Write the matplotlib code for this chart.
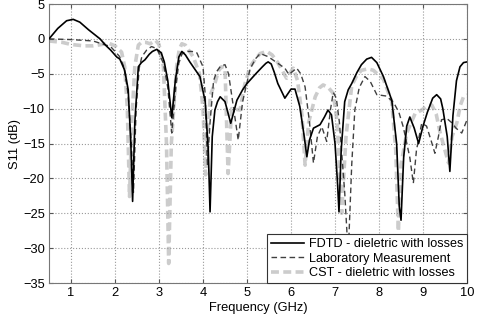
import matplotlib
matplotlib.use("Agg")
import matplotlib.pyplot as plt

plt.rcParams['font.family'] = ['Liberation Sans', 'DejaVu Sans']

fdtd_f = [0.5,0.7,0.9,1.05,1.2,1.4,1.66,1.8,1.9,2.04,2.11,2.22,2.3,2.36,2.40,2.45,2.53,2.6,2.68,2.78,2.85,2.95,3.05,3.12,3.2,3.29,3.37,3.45,3.52,3.6,3.7,3.82,3.93,4.05,4.12,4.16,4.21,4.27,4.33,4.39,4.5,4.63,4.77,4.9,5.0,5.2,5.35,5.43,5.48,5.55,5.62,5.7,5.86,6.0,6.09,6.2,6.3,6.36,6.42,6.51,6.66,6.76,6.84,6.92,7.0,7.06,7.09,7.14,7.22,7.3,7.38,7.5,7.6,7.72,7.83,7.95,8.1,8.29,8.4,8.46,8.5,8.56,8.63,8.7,8.8,8.9,9.0,9.1,9.22,9.31,9.4,9.45,9.55,9.61,9.68,9.76,9.84,9.92,10.0]
fdtd_v = [0,1.5,2.6,2.8,2.4,1.3,0,-1.0,-1.6,-2.6,-2.9,-4.5,-7.3,-15,-23.3,-12,-4.0,-3.4,-3.0,-2.2,-1.8,-1.5,-2.0,-3.3,-6,-11.3,-6,-2.6,-1.8,-2.3,-3.3,-4.4,-5.4,-9,-16,-24.8,-14,-10.2,-9.0,-8.3,-9.0,-12.1,-8.8,-7.3,-6.4,-5.0,-4.0,-3.5,-3.3,-3.6,-4.8,-6.4,-8.5,-7.2,-7.2,-9.7,-14,-16.9,-14.5,-12.8,-12.3,-11.2,-10.2,-10.9,-15,-21,-24.8,-16,-9,-7.3,-6.4,-4.8,-3.7,-2.9,-2.65,-3.4,-5.4,-8.8,-15,-24,-26,-17,-12.5,-11.2,-12.8,-15,-12.5,-10.5,-8.5,-8.0,-8.6,-10,-14,-19.0,-11,-6.0,-4.0,-3.4,-3.3]

lab_f = [0.5,1.0,1.5,1.9,2.1,2.2,2.3,2.37,2.42,2.48,2.55,2.61,2.72,2.83,2.95,3.1,3.2,3.29,3.38,3.45,3.52,3.6,3.75,3.86,4.0,4.05,4.1,4.16,4.24,4.31,4.4,4.5,4.58,4.65,4.8,4.9,5.07,5.2,5.3,5.48,5.7,5.86,5.95,6.05,6.13,6.22,6.32,6.42,6.51,6.6,6.7,6.81,6.9,6.96,7.03,7.1,7.22,7.30,7.38,7.45,7.55,7.68,7.8,7.95,8.17,8.33,8.45,8.55,8.7,8.78,8.85,8.97,9.08,9.18,9.27,9.35,9.42,9.54,9.65,9.75,9.88,10.0]
lab_v = [0,-0.1,-0.3,-1.1,-2.5,-4.0,-8,-15,-22,-10,-4.2,-2.55,-1.6,-1.1,-1.4,-3.5,-7,-13.5,-7,-3.5,-2.2,-1.8,-1.8,-2.0,-4,-8,-18,-12,-6,-4.7,-3.9,-3.7,-5.0,-8,-14.5,-9,-4.3,-2.8,-2.1,-2.55,-3.5,-4.2,-5.1,-4.6,-4.2,-5.0,-6.9,-12,-17.8,-14,-12.6,-14.7,-10,-7.7,-8.5,-12,-22,-31,-18,-10.2,-7.0,-5.4,-6.1,-8.0,-8.2,-9.1,-10.5,-12.6,-17,-20.7,-16,-12.1,-12.5,-14.5,-16.4,-14,-11.6,-11.4,-12.0,-12.8,-13.5,-11.6]

cst_f = [0.5,0.8,1.0,1.3,1.5,1.7,1.85,2.0,2.15,2.22,2.28,2.33,2.38,2.45,2.53,2.6,2.7,2.8,2.92,3.0,3.1,3.17,3.22,3.28,3.4,3.46,3.52,3.6,3.78,3.92,4.0,4.06,4.1,4.17,4.27,4.35,4.42,4.5,4.57,4.65,4.84,4.95,5.07,5.2,5.3,5.45,5.57,5.7,5.9,6.05,6.15,6.25,6.32,6.4,6.55,6.65,6.73,6.85,6.96,7.05,7.15,7.25,7.38,7.5,7.6,7.75,7.87,8.1,8.29,8.38,8.44,8.5,8.63,8.82,8.97,9.1,9.2,9.3,9.39,9.5,9.58,9.66,9.77,9.85,9.92,10.0]
cst_v = [-0.3,-0.5,-0.8,-1.0,-1.0,-0.8,-0.6,-1.0,-1.9,-4,-10,-22.6,-12,-4,-0.9,-0.5,-0.5,-0.7,-0.2,-0.8,-4,-15,-32.2,-15,-4.0,-1.5,-0.7,-0.9,-2.6,-5,-10,-19.5,-14,-8,-6.4,-4.6,-4.0,-4.2,-19.3,-10,-10.2,-6.5,-4.0,-2.8,-2.1,-1.8,-2.3,-3.4,-5.65,-4.2,-6,-11,-18.1,-12,-8.3,-7.0,-6.6,-7.0,-7.8,-12,-25,-14,-6.7,-5.2,-4.5,-4.3,-4.5,-5.8,-9,-16,-27.6,-18,-13.5,-10.7,-10.2,-9.6,-9.5,-10.8,-13.5,-16,-17.8,-14,-12,-9.5,-8.3,-8.0]

x_ticks = [1,2,3,4,5,6,7,8,9,10]
y_ticks = [5,0,-5,-10,-15,-20,-25,-30,-35]

fig = plt.figure(figsize=(4.79, 3.2), dpi=100)
ax = fig.add_axes([0.1023, 0.1156, 0.8727, 0.8719])

ax.plot(fdtd_f, fdtd_v, color='black', lw=1.2, label='FDTD - dieletric with losses', zorder=3)
ax.plot(lab_f, lab_v, color='#404040', lw=1.0, ls=(0, (4, 2.5)), label='Laboratory Measurement', zorder=2)
ax.plot(cst_f, cst_v, color='#cccccc', lw=2.6, ls=(0, (2.2, 1.2)), label='CST - dieletric with losses', zorder=1)

ax.set_xlim(0.5, 10)
ax.set_ylim(-35, 5)
ax.set_xticks(x_ticks)
ax.set_yticks(y_ticks)
ax.grid(True, ls=':', color='#999999', lw=0.8)
ax.tick_params(direction='in', top=True, right=True, labelsize=9.3, length=3, color='#555555', pad=3)
for s in ax.spines.values():
    s.set_color('#777777')
ax.set_xlabel('Frequency (GHz)', fontsize=9.3, labelpad=2)
ax.set_ylabel('S11 (dB)', fontsize=9.3, labelpad=1)

leg = ax.legend(loc='lower right', fontsize=9.1, frameon=True, fancybox=False,
                borderaxespad=0, handlelength=2.6, handletextpad=0.4,
                labelspacing=0.2, borderpad=0.3)
leg.get_frame().set_edgecolor('#333333')
leg.get_frame().set_linewidth(0.8)
leg.get_frame().set_alpha(1)

fig.savefig('out.png', dpi=100)
